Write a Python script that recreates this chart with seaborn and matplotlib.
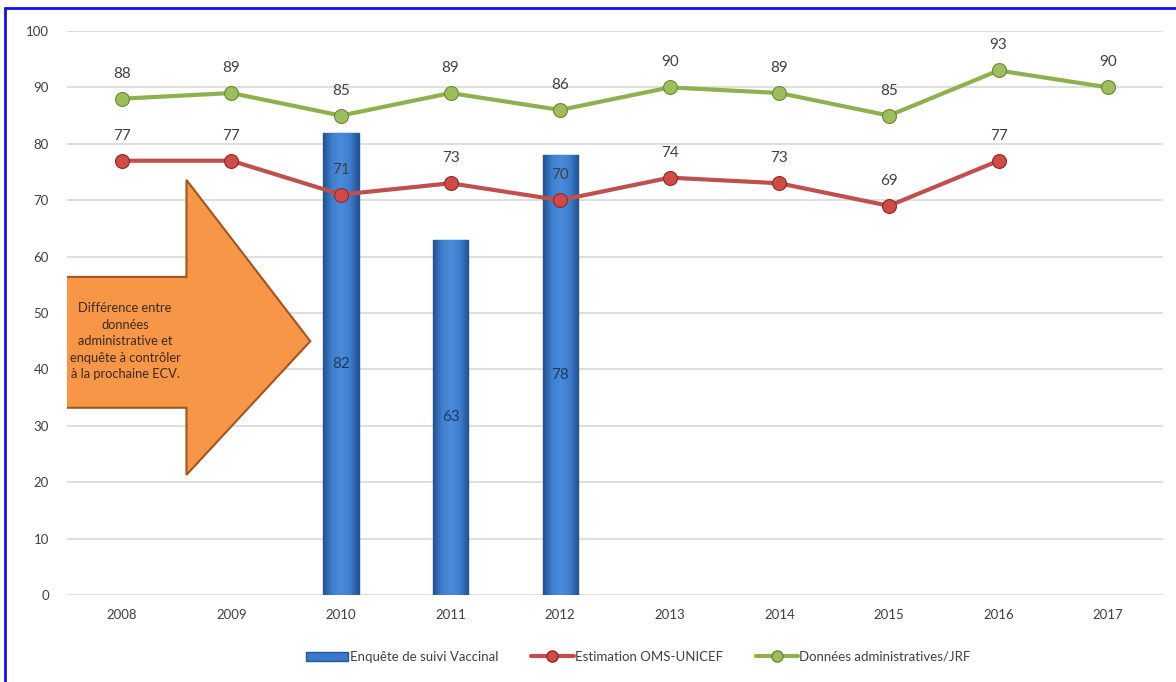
import matplotlib
matplotlib.use("Agg")
import matplotlib.pyplot as plt
from matplotlib.patches import Polygon, Patch, Rectangle
from matplotlib.lines import Line2D
from matplotlib.colors import LinearSegmentedColormap
import numpy as np
import pandas as pd
import seaborn as sns

# Coverage series by year
years = ["2008", "2009", "2010", "2011", "2012", "2013", "2014", "2015", "2016", "2017"]
enquete = [np.nan, np.nan, 82, 63, 78, np.nan, np.nan, np.nan, np.nan, np.nan]
oms_unicef = [77, 77, 71, 73, 70, 74, 73, 69, 77, np.nan]
admin_jrf = [88, 89, 85, 89, 86, 90, 89, 85, 93, 90]

legend_labels = ["Enquête de suivi Vaccinal", "Estimation OMS-UNICEF", "Données administratives/JRF"]
note_text = "Différence entre\ndonnées\nadministrative et\nenquête à contrôler\nà la prochaine ECV."

df = pd.DataFrame({"annee": years, "enquete": enquete,
                   "oms": oms_unicef, "admin": admin_jrf})
df["pos"] = np.arange(len(years))

sns.set_theme(style="white")
plt.rcParams["font.family"] = ["Lato", "DejaVu Sans"]

BAR = "#3A78C9"
BAR_EDGE = "#24569A"
RED = "#C0504D"
RED_EDGE = "#8E2A28"
GREEN = "#8FB04E"
GREEN_EDGE = "#6B8A33"
TXT = "#404040"

fig = plt.figure(figsize=(11.76, 6.82), dpi=100)
ax = fig.add_axes([67 / 1176, 1 - 595 / 682, (1163 - 67) / 1176, (595 - 31) / 682])

sns.barplot(data=df, x="annee", y="enquete", order=years, width=0.32,
            color=BAR, edgecolor=BAR_EDGE, linewidth=1.0, saturation=1, ax=ax, zorder=2)

# Cylinder-like horizontal shading on each bar
shade = LinearSegmentedColormap.from_list(
    "barshade", ["#22528F", "#3F7FCF", "#4A8ADB", "#3F7FCF", "#22528F"])
grad = np.linspace(0, 1, 64).reshape(1, -1)
for bar in list(ax.patches):
    if not isinstance(bar, Rectangle) or bar.get_height() == 0 or np.isnan(bar.get_height()):
        continue
    x0, y0 = bar.get_x(), bar.get_y()
    w, h = bar.get_width(), bar.get_height()
    im = ax.imshow(grad, cmap=shade, aspect="auto", extent=(x0, x0 + w, y0, y0 + h),
                   zorder=2.1, interpolation="bicubic")
    im.set_clip_path(bar)

sns.lineplot(data=df, x="pos", y="oms", color=RED, linewidth=3, marker="o",
             markersize=10, markerfacecolor="#D04A46", markeredgecolor=RED_EDGE,
             markeredgewidth=0.8, ax=ax, zorder=4)
sns.lineplot(data=df, x="pos", y="admin", color=GREEN, linewidth=3, marker="o",
             markersize=10, markerfacecolor="#9DBE5C", markeredgecolor=GREEN_EDGE,
             markeredgewidth=0.8, ax=ax, zorder=4)

ax.set_xlim(-0.5, len(years) - 0.5)
ax.set_ylim(0, 100)
ax.set_yticks(range(0, 101, 10))
ax.set_xticks(range(len(years)))
ax.set_xticklabels(years)
ax.set_xlabel("")
ax.set_ylabel("")
ax.grid(axis="y", color="#D9D9D9", linewidth=1.2, zorder=0)
ax.set_axisbelow(True)
for s in ax.spines.values():
    s.set_visible(False)
ax.tick_params(axis="both", colors=TXT, labelsize=9.5, length=0, pad=10)
ax.tick_params(axis="y", pad=13)

# Value labels
for i, v in enumerate(enquete):
    if not np.isnan(v):
        ax.text(i, v / 2, f"{v:g}", ha="center", va="center", fontsize=11,
                color="#1F3A60", zorder=5)
for i, v in enumerate(oms_unicef):
    if not np.isnan(v):
        ax.annotate(f"{v:g}", (i, v), xytext=(0, 13), textcoords="offset points",
                    ha="center", va="bottom", fontsize=11, color=TXT, zorder=5)
for i, v in enumerate(admin_jrf):
    ax.annotate(f"{v:g}", (i, v), xytext=(0, 13), textcoords="offset points",
                ha="center", va="bottom", fontsize=11, color=TXT, zorder=5)

# Block arrow callout
arrow = Polygon([(-0.53, 56.4), (0.59, 56.4), (0.59, 73.6), (1.72, 45.0),
                 (0.59, 21.3), (0.59, 33.2), (-0.53, 33.2)],
                closed=True, facecolor="#F79646", edgecolor="#A0561E",
                linewidth=1.5, zorder=3)
ax.add_patch(arrow)
ax.text(0.03, 45, note_text, ha="center", va="center", fontsize=9.3,
        color="#3A2A1A", linespacing=1.45, zorder=6)

# Legend
handles = [
    Patch(facecolor=BAR, edgecolor=BAR_EDGE),
    Line2D([], [], color=RED, linewidth=3, marker="o", markersize=8,
           markerfacecolor="#D04A46", markeredgecolor=RED_EDGE),
    Line2D([], [], color=GREEN, linewidth=3, marker="o", markersize=8,
           markerfacecolor="#9DBE5C", markeredgecolor=GREEN_EDGE),
]
fig.legend(handles, legend_labels, loc="center", bbox_to_anchor=(0.543, 0.037),
           ncol=3, frameon=False, fontsize=9.5, handlelength=3.2,
           handletextpad=0.1, columnspacing=2.5, labelcolor=TXT)

# Blue frame around the chart
fig.add_artist(Line2D([5 / 1176, 1], [1 - 8 / 682, 1 - 8 / 682],
                      transform=fig.transFigure, color="#1010F0", linewidth=2))
fig.add_artist(Line2D([5 / 1176, 5 / 1176], [0, 1 - 8 / 682],
                      transform=fig.transFigure, color="#1010F0", linewidth=2))

fig.savefig("out.png", dpi=100, facecolor="white")
